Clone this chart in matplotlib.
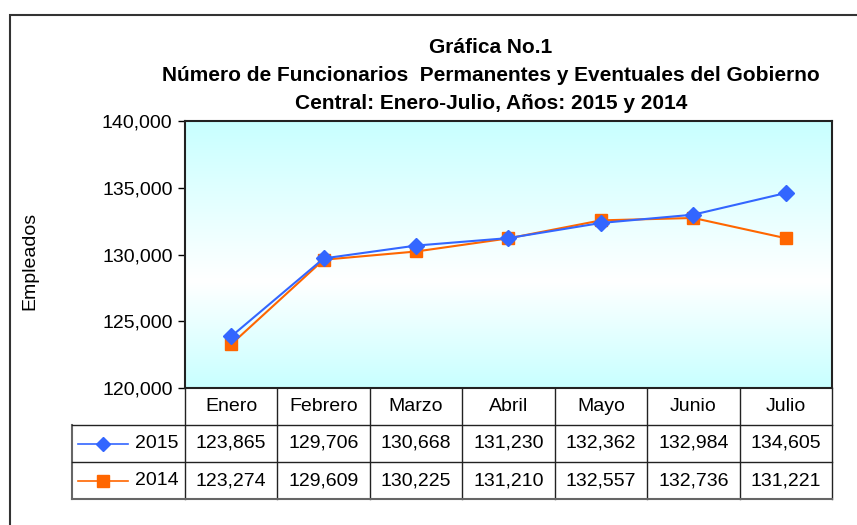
import numpy as np
import matplotlib.pyplot as plt
from matplotlib.colors import LinearSegmentedColormap

plt.rcParams['font.family'] = ['Liberation Sans', 'DejaVu Sans']

meses = ['Enero', 'Febrero', 'Marzo', 'Abril', 'Mayo', 'Junio', 'Julio']
serie_2015 = [123865, 129706, 130668, 131230, 132362, 132984, 134605]
serie_2014 = [123274, 129609, 130225, 131210, 132557, 132736, 131221]
anios = ['2015', '2014']
yticks = [120000, 125000, 130000, 135000, 140000]

azul = '#3366FF'
naranja = '#FF6600'

W, H = 857, 525
fig = plt.figure(figsize=(W / 100, H / 100), dpi=100)


def px_box(x0, y0, x1, y1):
    # caja en pixeles (origen arriba a la izquierda) -> coords de figura
    return [x0 / W, 1 - y1 / H, (x1 - x0) / W, (y1 - y0) / H]


# marco exterior
fig.add_artist(plt.Rectangle((10 / W, -0.1), 1.2, 1 - 15 / H + 0.1,
                             transform=fig.transFigure, fill=False,
                             edgecolor='#333333', linewidth=1.5))

# grafica principal
ax = fig.add_axes(px_box(185, 121, 832, 388))
x = np.arange(len(meses))
ax.set_xlim(-0.5, len(meses) - 0.5)
ax.set_ylim(120000, 140000)

cmap = LinearSegmentedColormap.from_list(
    'fondo', [(0, '#C8FFFF'), (0.6, '#FFFFFF'), (1, '#C8FFFF')])
grad = np.linspace(0, 1, 256).reshape(-1, 1)
ax.imshow(grad, cmap=cmap, aspect='auto', extent=(-0.5, len(meses) - 0.5, 120000, 140000),
          origin='upper', zorder=0)

ax.plot(x, serie_2015, color=azul, marker='D', markersize=8, linewidth=1.5, zorder=3)
ax.plot(x, serie_2014, color=naranja, marker='s', markersize=8, linewidth=1.5, zorder=2)

ax.set_yticks(yticks)
ax.set_yticklabels([f'{v:,}' for v in yticks], fontsize=14)
ax.tick_params(axis='y', length=5, width=1, pad=4)
ax.set_xticks([])
for s in ax.spines.values():
    s.set_linewidth(1.5)
    s.set_color('#222222')

fig.text(30 / W, 1 - 261 / H, 'Empleados', rotation=90, fontsize=14,
         ha='center', va='center')

titulo = ('Gráfica No.1\n'
          'Número de Funcionarios  Permanentes y Eventuales del Gobierno\n'
          'Central: Enero-Julio, Años: 2015 y 2014')
fig.text(491 / W, 1 - 75.5 / H, titulo, fontsize=15, fontweight='bold',
         ha='center', va='center', linespacing=1.57)

# tabla de datos
leg_w = (185 - 72) / ((832 - 185) / len(meses))
ax_t = fig.add_axes(px_box(72, 388, 832, 499))
ax_t.set_xlim(-0.5 - leg_w, len(meses) - 0.5)
ax_t.set_ylim(3, 0)
ax_t.axis('off')

lc = '#222222'
for i in range(len(meses) + 1):
    ax_t.plot([i - 0.5, i - 0.5], [0, 3], color=lc, lw=1, clip_on=False)
ax_t.plot([-0.5 - leg_w] * 2, [1, 3], color='#666666', lw=1.5, clip_on=False)
for r in [1, 2]:
    ax_t.plot([-0.5 - leg_w, len(meses) - 0.5], [r, r], color=lc, lw=1, clip_on=False)
ax_t.plot([-0.5 - leg_w, len(meses) - 0.5], [3, 3], color='#666666', lw=1.5, clip_on=False)

for i, m in enumerate(meses):
    ax_t.text(i, 0.5, m, ha='center', va='center', fontsize=14)

for r, (serie, color, mk, ms) in enumerate([(serie_2015, azul, 'D', 7),
                                            (serie_2014, naranja, 's', 8)]):
    yc = r + 1.5
    for i, v in enumerate(serie):
        ax_t.text(i, yc, f'{v:,}', ha='center', va='center', fontsize=14)
    x0 = -0.5 - leg_w + 0.06
    x1 = x0 + 0.55
    ax_t.plot([x0, x1], [yc, yc], color=color, lw=1.2, clip_on=False)
    ax_t.plot([(x0 + x1) / 2], [yc], color=color, marker=mk, markersize=ms, clip_on=False)
    ax_t.text(-0.5 - 0.31, yc, anios[r], ha='center', va='center', fontsize=14)

fig.savefig('out.png', dpi=100)
